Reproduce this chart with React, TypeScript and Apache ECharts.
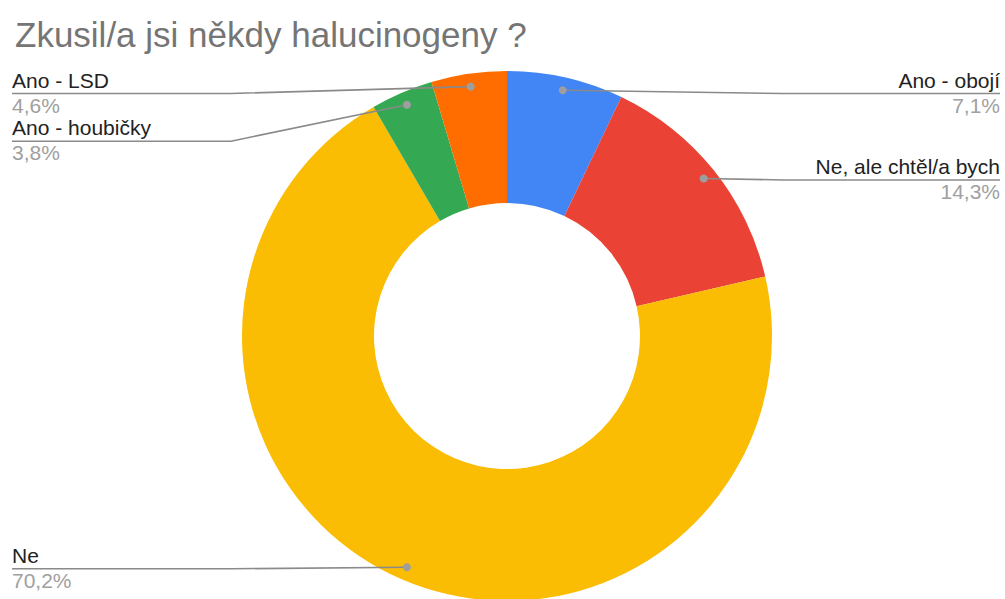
import React, { useEffect, useRef } from "react";
import * as echarts from "echarts";

const TITLE = "Zkusil/a jsi někdy halucinogeny ?";
const categories = ["Ano - obojí", "Ne, ale chtěl/a bych", "Ne", "Ano - houbičky", "Ano - LSD"];
const values = [7.1, 14.3, 70.2, 3.8, 4.6];
const colors = ["#4285f4", "#ea4335", "#fbbc04", "#34a853", "#ff6d01"];

const W = 1005;
const H = 599;
const CX = 507;
const CY = 336;
const R_OUT = 265;
const R_IN = 133;
const R_DOT = 252;
const EDGE_L = 12;
const EDGE_R = 1000;
const MIN_LINE_Y = 93.5;
const GAP = 47.7;
const LABEL_FS = 21;
const LABEL_LH = 25;
const FONT = "Arial, 'Liberation Sans', sans-serif";

type Pt = { i: number; x: number; y: number; right: boolean; lineY: number };

function geometry(): Pt[] {
  const total = values.reduce((a, b) => a + b, 0);
  let cum = 0;
  const pts: Pt[] = values.map((v, i) => {
    const th = ((cum + v / 2) / total) * 2 * Math.PI;
    cum += v;
    return {
      i,
      x: CX + R_DOT * Math.sin(th),
      y: CY - R_DOT * Math.cos(th),
      right: Math.sin(th) >= 0,
      lineY: 0,
    };
  });
  for (const side of [true, false]) {
    const list = pts.filter((p) => p.right === side).sort((a, b) => a.y - b.y);
    let prev = -Infinity;
    for (const p of list) {
      p.lineY = Math.max(p.y + 1.5, MIN_LINE_Y, prev + GAP);
      prev = p.lineY;
    }
  }
  return pts;
}

export default function App() {
  const ref = useRef<HTMLDivElement>(null);
  useEffect(() => {
    if (!ref.current) return;
    const chart = echarts.init(ref.current, undefined, { renderer: "svg" });
    const pts = geometry();
    const data = categories.map((c, i) => ({ name: c, value: values[i], itemStyle: { color: colors[i] } }));
    const base = {
      type: "pie",
      center: [CX, CY],
      radius: [R_IN, R_OUT],
      startAngle: 90,
      clockwise: true,
      avoidLabelOverlap: false,
      silent: true,
      itemStyle: { borderWidth: 0 },
    };
    chart.setOption({
      animation: false,
      backgroundColor: "#ffffff",
      title: {
        text: TITLE,
        left: 10,
        top: 11.5,
        textStyle: { fontFamily: FONT, fontSize: 35, fontWeight: "normal", color: "#757575" },
      },
      series: [
        {
          ...base,
          z: 2,
          data,
          label: { show: false },
          labelLine: { show: false },
        },
        {
          ...base,
          z: 3,
          data: data.map((d) => ({ ...d, itemStyle: { color: "rgba(0,0,0,0)" } })),
          label: {
            show: true,
            position: "outside",
            fontFamily: FONT,
            formatter: (p: any) => `{n|${p.name}}\n{v|${Number(p.value).toFixed(1).replace(".", ",")}%}`,
            rich: {
              n: { fontFamily: FONT, fontSize: LABEL_FS, color: "#222222", lineHeight: LABEL_LH },
              v: { fontFamily: FONT, fontSize: LABEL_FS, color: "#a0a0a0", lineHeight: LABEL_LH },
            },
          },
          labelLine: { show: true, lineStyle: { color: "#8a8a8a", width: 1.6 } },
          labelLayout: (params: any) => {
            const p = pts[params.dataIndex];
            const edge = p.right ? EDGE_R : EDGE_L;
            const bendX = p.right ? CX + R_OUT + 11 : CX - R_OUT - 11;
            return {
              x: edge,
              y: p.lineY - 25.8,
              align: p.right ? "right" : "left",
              verticalAlign: "top",
              labelLinePoints: [
                [p.x, p.y],
                [bendX, p.lineY],
                [edge, p.lineY],
              ],
            };
          },
        },
      ],
      graphic: pts.map((p) => ({
        type: "circle",
        z: 100,
        shape: { cx: p.x, cy: p.y, r: 4 },
        style: { fill: "#9e9e9e" },
        silent: true,
      })),
    });
    return () => chart.dispose();
  }, []);
  return <div ref={ref} style={{ position: "absolute", left: 0, top: 0, width: W, height: H }} />;
}
